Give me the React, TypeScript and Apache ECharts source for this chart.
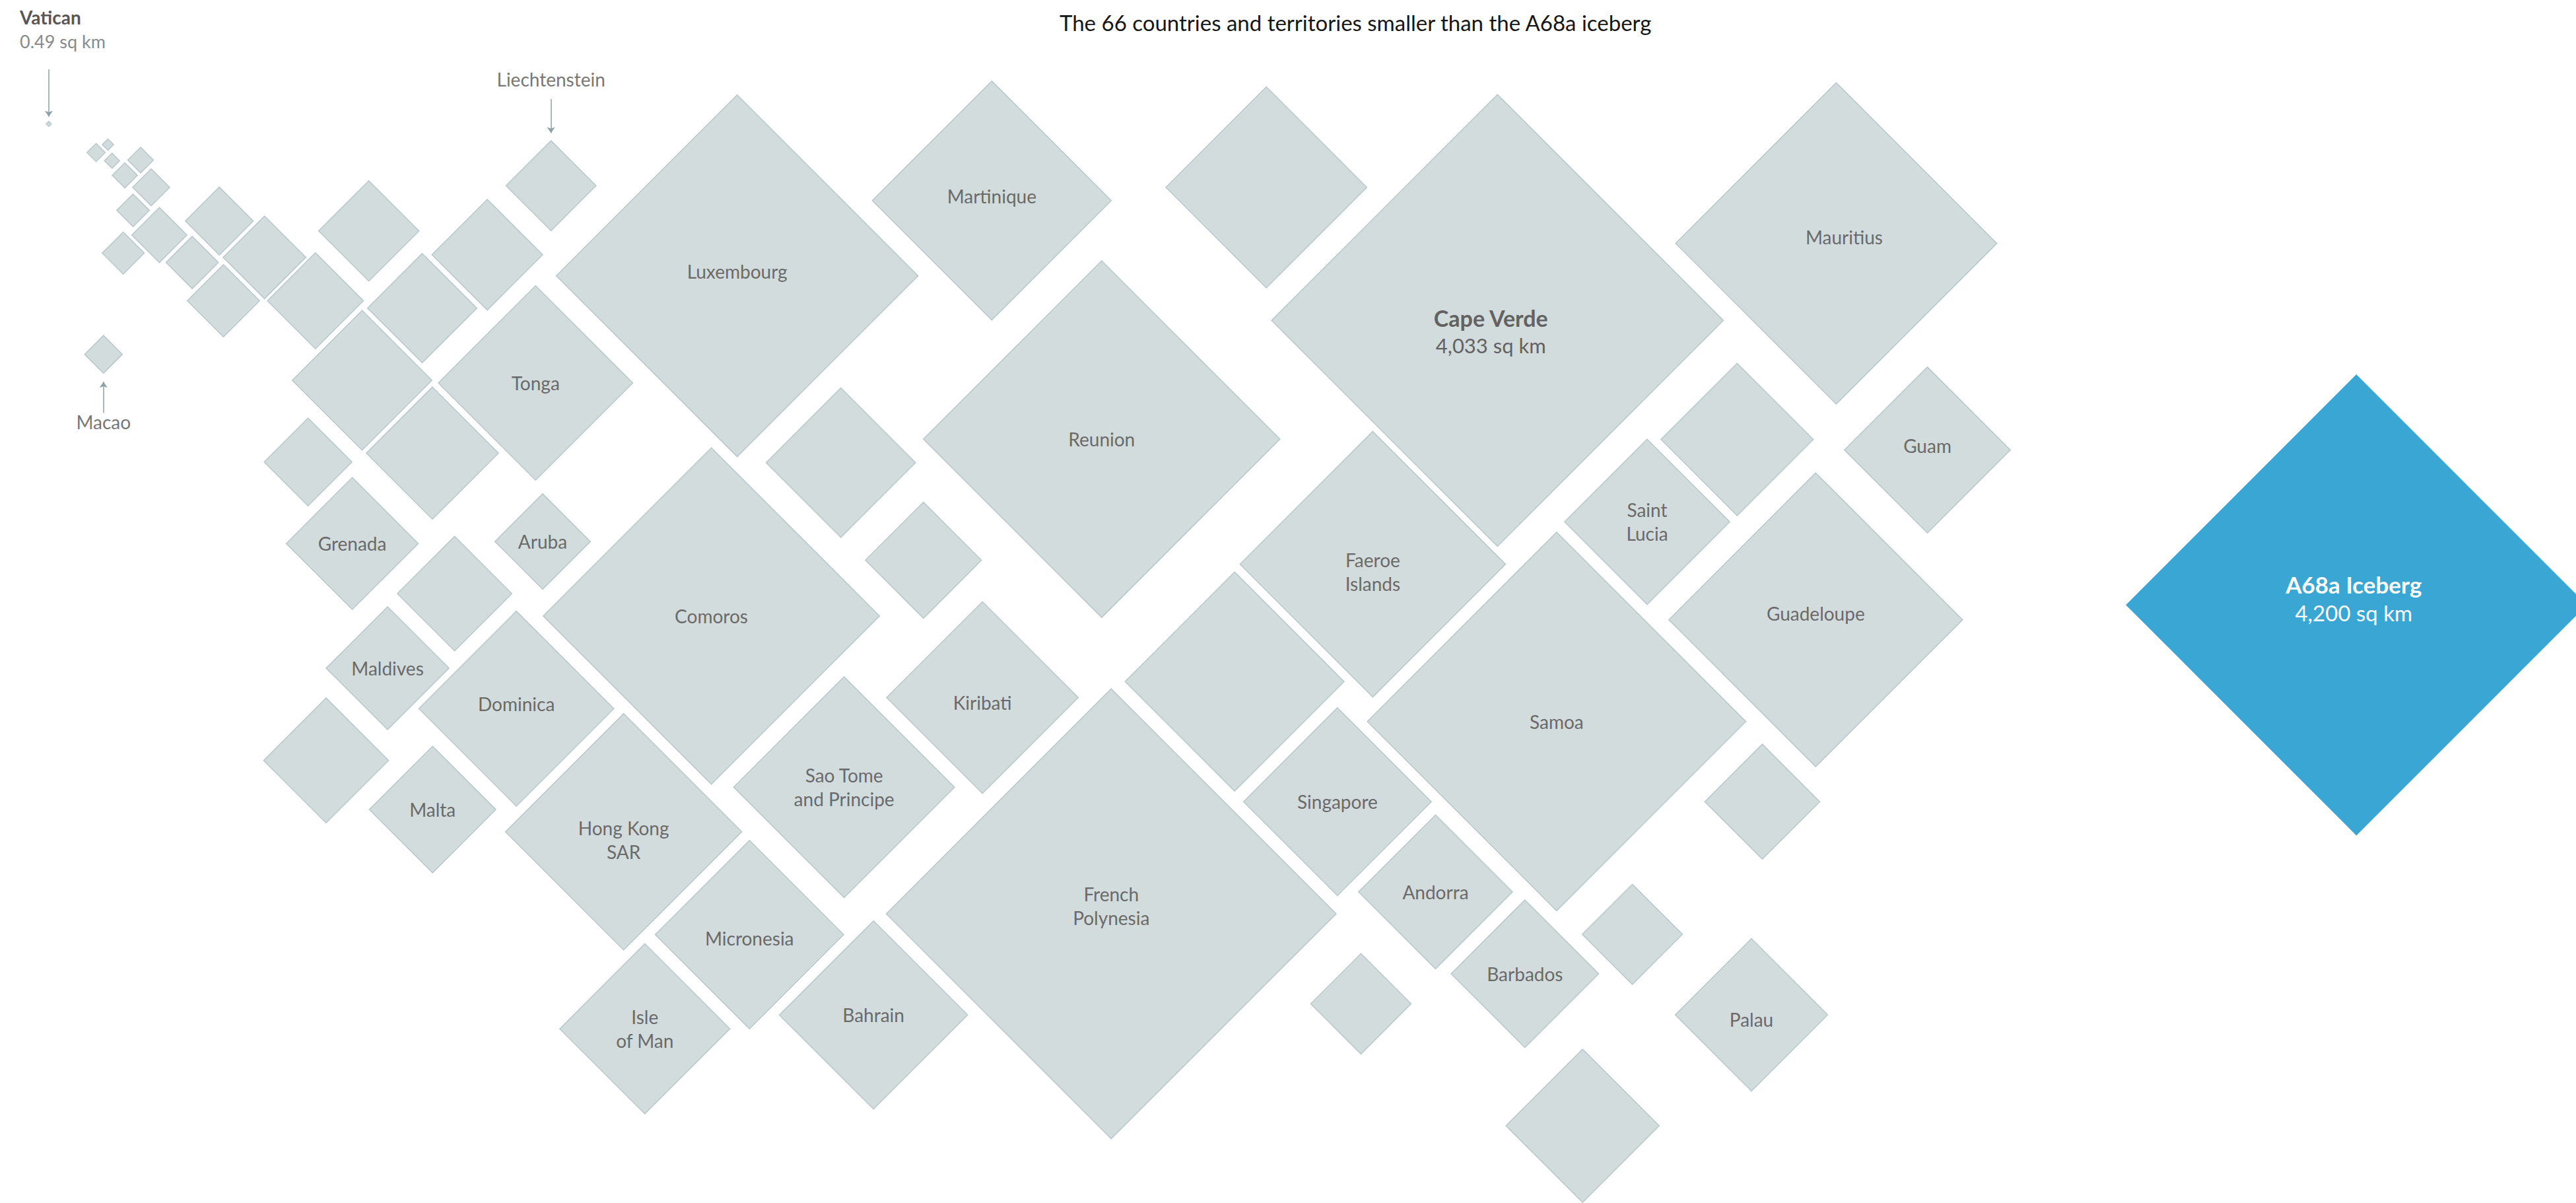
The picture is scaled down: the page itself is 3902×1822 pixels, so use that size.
import React, { useEffect, useRef } from 'react';
import * as echarts from 'echarts';

const W = 3902;
const H = 1822;
// layout space in which positions were read
const XMAX = 1568;
const YMAX = 732;
// diagonal (layout units) per sqrt(sq km)
const SIZE_K = 4.33;

const FONT = 'Lato, "Noto Sans", sans-serif';

const title = 'The 66 countries and territories smaller than the A68a iceberg';

// '' = unlabelled country/territory
const labels = [
  'Vatican', 'Macao', 'Liechtenstein',
  '', '', '', '', '', '', '', '', '', '', '', '', '', '', '', '', '', '',
  'Luxembourg', 'Martinique', '', 'Cape Verde', 'Mauritius', 'Tonga', 'Reunion',
  '', '', '', '', 'Grenada', 'Aruba', '', 'Comoros', 'Maldives', 'Dominica', '',
  'Malta', 'Hong Kong\nSAR', 'Kiribati', 'Sao Tome\nand Principe', 'Micronesia',
  'Isle\nof Man', 'Bahrain', 'French\nPolynesia', 'Faeroe\nIslands', '', 'Singapore',
  'Andorra', '', 'Barbados', 'Samoa', 'Saint\nLucia', '', 'Guam', 'Guadeloupe',
  '', '', 'Palau', '',
];

// area in sq km
const areas = [
  0.49, 28, 160,
  6.5, 2.5, 4.5, 13, 12.5, 27, 21, 60, 35, 91, 54, 135, 103, 199, 182, 242, 236, 385,
  2586, 1128, 798, 4033, 2040, 747, 2512,
  441, 266, 345, 152, 344, 180, 259, 2235, 298, 751, 308,
  316, 1104, 726, 964, 702,
  572, 700, 4000, 1393, 948, 697,
  468, 199, 430, 2831, 539, 458, 544, 1705,
  261, 198, 459, 464,
];

const posX = [
  29.7, 63, 335.4,
  58.5, 65.7, 68.2, 85.6, 76, 92, 81, 97, 75, 133.5, 117, 161, 136, 224.5, 192, 296.6, 257, 220.4,
  448.7, 603.7, 770.8, 911.5, 1117.7, 326, 670.6,
  511.8, 562.1, 263.2, 187.5, 214.4, 330.3, 276.7, 433, 235.9, 314.3, 198.5,
  263.3, 379.6, 598, 513.8, 456.2,
  392.5, 531.7, 676.4, 835.6, 751.5, 814.1,
  873.8, 828.4, 928.2, 947.5, 1002.6, 1057.4, 1173.2, 1105.2,
  1072.7, 993.6, 1066.1, 963.3,
];

const posY = [
  75.4, 215.6, 113,
  92.8, 88, 97.8, 97.4, 106.7, 114, 128, 143, 154, 134.5, 159.7, 156.6, 183, 140.5, 183, 155, 187.5, 231.4,
  167.8, 122, 114, 195, 148.1, 233, 267.2,
  281.5, 340.9, 275.7, 281.1, 330.7, 329.5, 361.2, 374.8, 406.6, 431.2, 462.7,
  492.6, 506.1, 424.5, 479, 568.7,
  626, 617.6, 556, 343.3, 414.7, 487.8,
  542.7, 610.8, 592.5, 439, 317.5, 267.4, 273.8, 377.1,
  487.8, 568.5, 617.5, 685,
];

const icebergLabel = 'A68a Iceberg';
const icebergArea = 4200;
const icebergX = 1434.3;
const icebergY = 368.1;

// labels drawn outside their diamond, with a pointer
const outsideTop = ['Liechtenstein'];
const outsideBottom = ['Macao'];
const highlighted = ['Cape Verde'];

// small label nudges (px)
const labelNudge: Record<string, number[]> = {
  Luxembourg: [0, -7],
  Martinique: [0, -7],
  Mauritius: [12, -10],
  Guam: [0, -7],
  'Faeroe\nIslands': [0, 12],
  'Hong Kong\nSAR': [0, 12],
  'French\nPolynesia': [0, -12],
  Kiribati: [0, 7],
  Dominica: [0, -7],
  Micronesia: [0, 5],
  Palau: [0, 7],
  Guadeloupe: [0, -10],
  'Cape Verde': [-10, 17],
};

const arrowLines = [
  { from: [29.7, 42.2], to: [29.7, 71] },
  { from: [335.4, 60.3], to: [335.4, 81] },
  { from: [63, 251.2], to: [63, 232.3] },
];

const fmt = (v: number) => v.toLocaleString('en-US');

export default function App() {
  const ref = useRef<HTMLDivElement>(null);

  useEffect(() => {
    if (!ref.current) return;
    const chart = echarts.init(ref.current, undefined, { renderer: 'svg' });
    const pxPerUnit = chart.getWidth() / XMAX;
    const sizeOf = (area: number) => SIZE_K * Math.sqrt(area) * pxPerUnit;

    const labelBase = {
      color: '#6a6a6a',
      fontSize: 28,
      lineHeight: 36,
      fontFamily: FONT,
    };

    const data = labels.map((lab, i) => {
      const item: any = { value: [posX[i], posY[i], areas[i]], name: lab.replace('\n', ' ') };
      const offset = labelNudge[lab] || [0, 0];
      if (!lab || lab === 'Vatican') {
        item.label = { show: false };
      } else if (outsideTop.includes(lab)) {
        item.label = { show: true, position: 'top', distance: 74, formatter: lab, ...labelBase, color: '#777' };
      } else if (outsideBottom.includes(lab)) {
        item.label = { show: true, position: 'bottom', distance: 55, formatter: lab, ...labelBase, color: '#777' };
      } else if (highlighted.includes(lab)) {
        item.label = {
          show: true,
          position: 'inside',
          offset,
          formatter: `{b|${lab}}\n{n|${fmt(areas[i])} sq km}`,
          rich: {
            b: { fontFamily: FONT, fontSize: 34, fontWeight: 'bold', color: '#626262', lineHeight: 41 },
            n: { fontFamily: FONT, fontSize: 31, color: '#626262', lineHeight: 41 },
          },
        };
      } else {
        item.label = { show: true, position: 'inside', offset, formatter: lab, ...labelBase };
      }
      return item;
    });

    const option: any = {
      animation: false,
      backgroundColor: '#ffffff',
      title: {
        text: title,
        left: 1600,
        top: 12,
        textStyle: { fontFamily: FONT, fontSize: 33, fontWeight: 'normal', color: '#161616' },
      },
      grid: { left: 0, right: 0, top: 0, bottom: 0 },
      xAxis: { type: 'value', min: 0, max: XMAX, show: false },
      yAxis: { type: 'value', min: 0, max: YMAX, inverse: true, show: false },
      graphic: [
        {
          type: 'text',
          left: 30,
          top: 12,
          style: {
            text: '{b|Vatican}\n{n|0.49 sq km}',
            rich: {
              b: { fontFamily: FONT, fontSize: 28, fontWeight: 'bold', fill: '#575757', lineHeight: 36 },
              n: { fontFamily: FONT, fontSize: 27, fill: '#8a8a8a', lineHeight: 36 },
            },
          },
        },
      ],
      series: [
        {
          type: 'scatter',
          name: 'Countries',
          symbol: 'diamond',
          symbolSize: (v: number[]) => sizeOf(v[2]),
          itemStyle: { color: '#d3dcdc', borderColor: '#b7c8cd', borderWidth: 1.5, opacity: 1 },
          emphasis: { disabled: true },
          data,
          markLine: {
            silent: true,
            symbol: ['none', 'arrow'],
            symbolSize: 9,
            label: { show: false },
            lineStyle: { color: '#8aa1a9', width: 1.5, type: 'solid' },
            data: arrowLines.map((a) => [{ coord: a.from }, { coord: a.to }]),
          },
        },
        {
          type: 'scatter',
          name: 'Iceberg',
          symbol: 'diamond',
          symbolSize: (v: number[]) => sizeOf(v[2]),
          itemStyle: { color: '#3aa6d3', opacity: 1 },
          emphasis: { disabled: true },
          data: [
            {
              value: [icebergX, icebergY, icebergArea],
              name: icebergLabel,
              label: {
                show: true,
                position: 'inside',
                offset: [-4, -10],
                formatter: `{b|${icebergLabel}}\n{n|${fmt(icebergArea)} sq km}`,
                rich: {
                  b: { fontFamily: FONT, fontSize: 35, fontWeight: 'bold', color: '#ffffff', lineHeight: 43 },
                  n: { fontFamily: FONT, fontSize: 33, color: '#ffffff', lineHeight: 43 },
                },
              },
            },
          ],
        },
      ],
    };

    chart.setOption(option);
    return () => chart.dispose();
  }, []);

  return (
    <div
      ref={ref}
      style={{ position: 'absolute', left: 0, top: 0, width: W, height: H, background: '#fff' }}
    />
  );
}
